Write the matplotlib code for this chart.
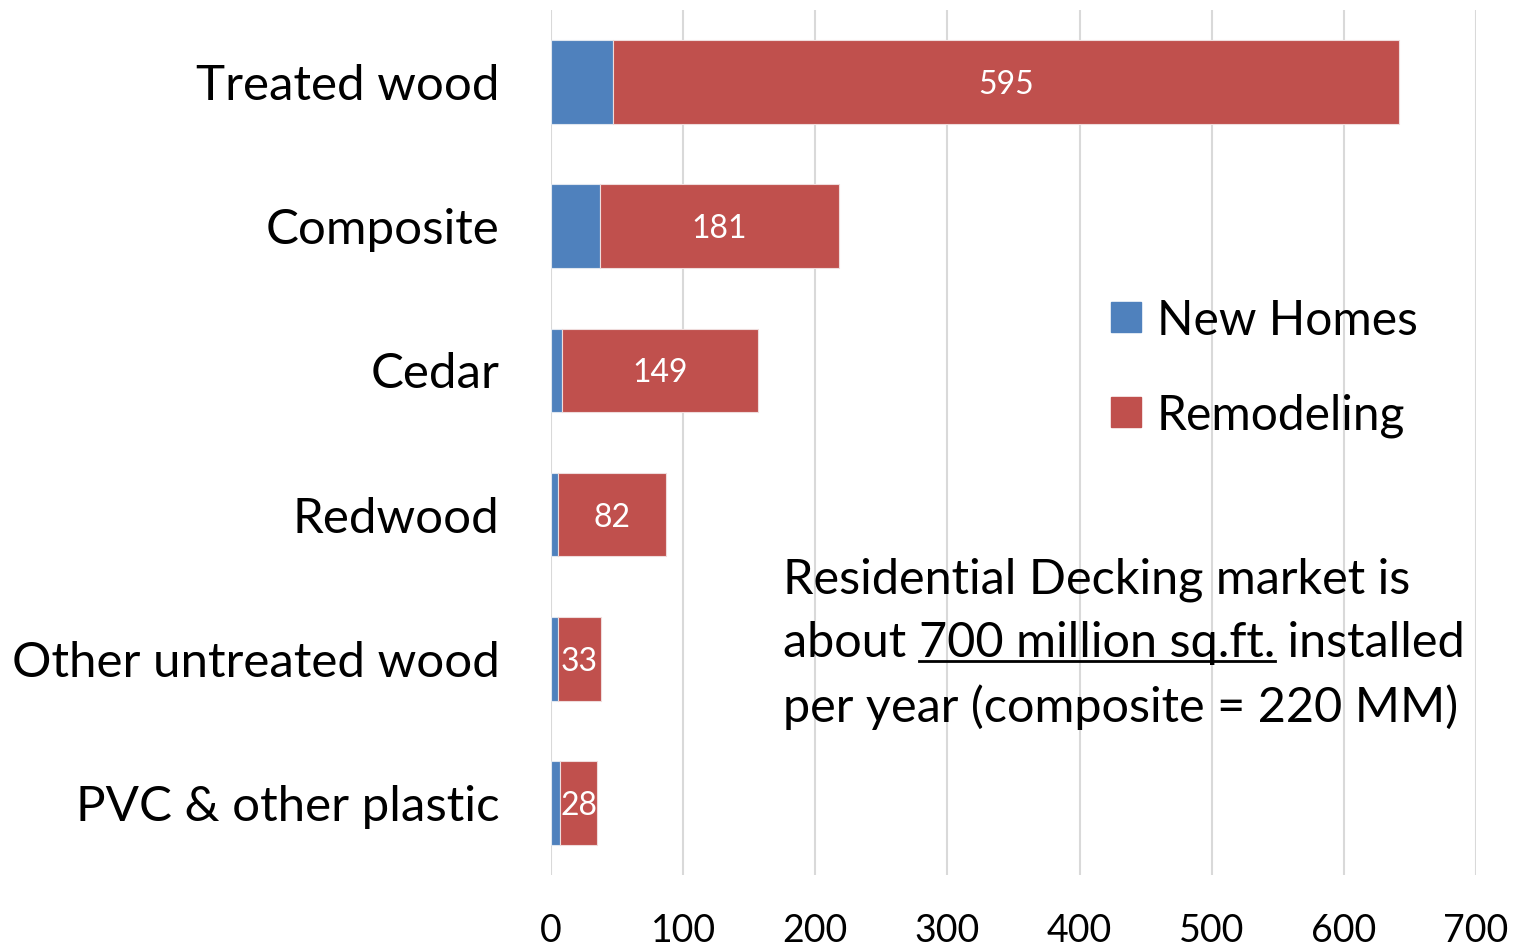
import matplotlib
matplotlib.use("Agg")
import matplotlib.pyplot as plt
from matplotlib.lines import Line2D
from matplotlib.patches import Rectangle

plt.rcParams['font.family'] = ['Lato', 'DejaVu Sans']

categories = ["Treated wood", "Composite", "Cedar", "Redwood", "Other untreated wood", "PVC & other plastic"]
new_homes = [47, 37, 8, 5, 5, 7]
remodeling = [595, 181, 149, 82, 33, 28]
x_ticks = [0, 100, 200, 300, 400, 500, 600, 700]
series_names = ["New Homes", "Remodeling"]

blue = "#4F81BD"
red = "#C0504D"

W, H = 1523, 949
fig = plt.figure(figsize=(W / 100, H / 100), dpi=100)
ax = fig.add_axes([551/W, 1-875/H, (1476-551)/W, (875-10)/H])

y = list(range(len(categories)))
ax.barh(y, new_homes, height=0.58, color=blue, edgecolor="#dfe6ef", linewidth=0.8, label=series_names[0], zorder=3)
ax.barh(y, remodeling, left=new_homes, height=0.58, color=red, edgecolor="#efdcdc", linewidth=0.8, label=series_names[1], zorder=3)

for i in y:
    ax.text(new_homes[i] + remodeling[i] / 2, i, str(remodeling[i]), color="white",
            ha="center", va="center_baseline", fontsize=23, zorder=4)

ax.set_ylim(len(categories) - 0.5, -0.5)
ax.set_xlim(0, 700)
ax.set_xticks(x_ticks)
ax.set_xticklabels([str(t) for t in x_ticks], fontsize=27)
ax.set_yticks(y)
ax.set_yticklabels(categories, fontsize=35.5)
ax.tick_params(axis='both', length=0)
ax.tick_params(axis='y', pad=37)
ax.tick_params(axis='x', pad=27)
ax.grid(axis='x', color="#d9d9d9", linewidth=1.5, zorder=0)
for s in ax.spines.values():
    s.set_visible(False)

# legend (drawn manually to match placement)
for name, col, yc in zip(series_names, [blue, red], [317, 412]):
    fig.add_artist(Rectangle((1111/W, 1-(yc+15)/H), 30/W, 30/H, color=col, transform=fig.transFigure))
    fig.text(1157/W, 1-yc/H, name, fontsize=34.5, va="center_baseline")

# annotation with underline
fs = 35
x0 = 783/W
fig.text(x0, 1-575/H, "Residential Decking market is", fontsize=fs, va="center_baseline")
fig.text(x0, 1-703/H, "per year (composite = 220 MM)", fontsize=fs, va="center_baseline")
yline = 1-639/H
t1 = fig.text(x0, yline, "about ", fontsize=fs, va="center_baseline")
fig.canvas.draw()
r = fig.canvas.get_renderer()
bb1 = t1.get_window_extent(r)
x1 = bb1.x1 / fig.bbox.width
t2 = fig.text(x1, yline, "700 million sq.ft.", fontsize=fs, va="center_baseline")
bb2 = t2.get_window_extent(r)
x2 = bb2.x1 / fig.bbox.width
fig.text(x2, yline, " installed", fontsize=fs, va="center_baseline")
uy = (bb2.y0 + 4) / fig.bbox.height
fig.add_artist(Line2D([x1, x2], [uy, uy], color="black", linewidth=2, transform=fig.transFigure))

fig.savefig("out.png", dpi=100)
